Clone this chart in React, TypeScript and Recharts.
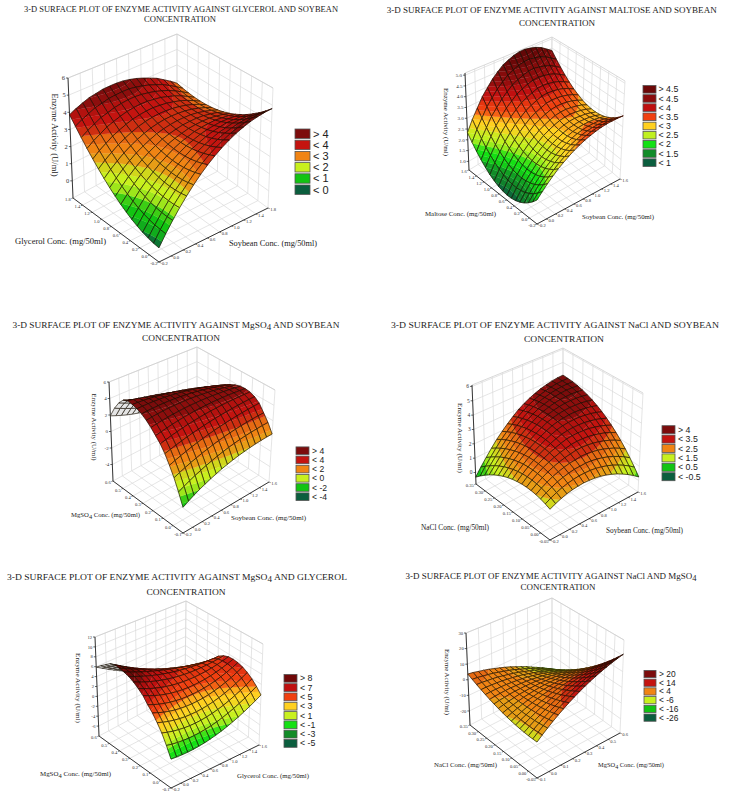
import React from 'react';
import { ScatterChart, Scatter, XAxis, YAxis } from 'recharts';

// Surface heights: rows run along the second factor, columns along the first.
const glycerolSoybeanZ = [
  [-.25,.33,.87,1.38,1.85,2.29,2.70,3.07,3.40,3.70,3.96,4.19,4.38,4.54,4.66,4.75,4.80],
  [-.21,.34,.86,1.35,1.79,2.21,2.60,2.94,3.25,3.52,3.76,3.97,4.13,4.27,4.37,4.43,4.46],
  [-.14,.38,.88,1.35,1.76,2.16,2.52,2.84,3.13,3.37,3.59,3.78,3.91,4.03,4.10,4.14,4.15],
  [-.05,.45,.93,1.37,1.76,2.14,2.47,2.77,3.04,3.25,3.45,3.61,3.72,3.82,3.86,3.88,3.87],
  [.08,.55,1.01,1.43,1.79,2.15,2.45,2.73,2.98,3.16,3.34,3.47,3.56,3.64,3.65,3.65,3.61],
  [.23,.68,1.12,1.51,1.85,2.19,2.46,2.72,2.94,3.10,3.26,3.36,3.43,3.48,3.47,3.45,3.38],
  [.42,.84,1.26,1.62,1.94,2.25,2.50,2.74,2.93,3.07,3.21,3.28,3.33,3.36,3.32,3.28,3.18],
  [.63,1.03,1.42,1.76,2.06,2.34,2.57,2.79,2.95,3.07,3.18,3.23,3.26,3.26,3.20,3.13,3.01],
  [.87,1.25,1.61,1.93,2.21,2.46,2.67,2.87,3.00,3.10,3.18,3.21,3.22,3.19,3.11,3.02,2.87],
  [1.14,1.50,1.83,2.13,2.39,2.61,2.80,2.97,3.08,3.16,3.21,3.22,3.21,3.15,3.05,2.93,2.76],
  [1.44,1.78,2.08,2.36,2.59,2.79,2.96,3.10,3.19,3.25,3.27,3.26,3.22,3.14,3.02,2.87,2.68],
  [1.77,2.09,2.36,2.62,2.82,3.00,3.15,3.26,3.33,3.37,3.36,3.33,3.26,3.16,3.02,2.84,2.63],
  [2.13,2.43,2.67,2.91,3.08,3.24,3.37,3.45,3.50,3.52,3.48,3.43,3.33,3.21,3.05,2.84,2.61],
  [2.52,2.79,3.01,3.23,3.37,3.51,3.61,3.67,3.70,3.69,3.63,3.56,3.43,3.29,3.10,2.87,2.62],
  [2.94,3.18,3.38,3.58,3.69,3.81,3.88,3.92,3.93,3.89,3.81,3.71,3.56,3.40,3.18,2.93,2.66],
  [3.39,3.60,3.78,3.95,4.04,4.14,4.18,4.20,4.19,4.12,4.02,3.89,3.72,3.54,3.29,3.02,2.72],
  [3.86,4.05,4.21,4.35,4.42,4.50,4.51,4.51,4.47,4.38,4.26,4.10,3.91,3.71,3.43,3.14,2.81],
];
const maltoseSoybeanZ = [
  [1.62,1.86,2.09,2.30,2.50,2.67,2.83,2.98,3.10,3.21,3.30,3.38,3.44,3.48,3.50,3.51,3.50],
  [1.40,1.66,1.90,2.12,2.33,2.51,2.67,2.82,2.95,3.06,3.15,3.22,3.27,3.30,3.32,3.31,3.29],
  [1.22,1.49,1.75,1.98,2.20,2.38,2.55,2.70,2.83,2.94,3.03,3.10,3.14,3.16,3.17,3.15,3.12],
  [1.07,1.36,1.63,1.87,2.10,2.29,2.46,2.62,2.75,2.86,2.95,3.01,3.05,3.06,3.06,3.03,2.98],
  [.96,1.26,1.55,1.80,2.04,2.23,2.41,2.57,2.70,2.81,2.90,2.96,2.99,2.99,2.98,2.94,2.88],
  [.88,1.20,1.50,1.76,2.01,2.21,2.39,2.56,2.69,2.80,2.89,2.94,2.97,2.96,2.94,2.89,2.81],
  [.84,1.17,1.48,1.76,2.01,2.22,2.41,2.58,2.71,2.82,2.91,2.96,2.98,2.96,2.93,2.87,2.78],
  [.83,1.18,1.50,1.79,2.05,2.27,2.46,2.64,2.77,2.88,2.97,3.01,3.03,3.00,2.96,2.89,2.78],
  [.86,1.22,1.55,1.86,2.12,2.35,2.55,2.73,2.86,2.97,3.06,3.10,3.11,3.07,3.02,2.94,2.82],
  [.92,1.30,1.64,1.96,2.23,2.47,2.67,2.86,2.99,3.10,3.19,3.22,3.22,3.18,3.12,3.02,2.89],
  [1.02,1.41,1.76,2.10,2.37,2.62,2.83,3.02,3.15,3.26,3.35,3.38,3.37,3.32,3.25,3.14,3.00],
  [1.15,1.56,1.92,2.27,2.55,2.81,3.02,3.22,3.35,3.46,3.55,3.57,3.55,3.50,3.42,3.29,3.14],
  [1.32,1.74,2.11,2.48,2.76,3.03,3.25,3.45,3.58,3.69,3.78,3.80,3.77,3.71,3.62,3.48,3.32],
  [1.52,1.96,2.34,2.72,3.01,3.29,3.51,3.72,3.85,3.96,4.04,4.06,4.02,3.96,3.86,3.70,3.53],
  [1.76,2.21,2.60,3.00,3.29,3.58,3.81,4.02,4.15,4.26,4.34,4.36,4.31,4.24,4.13,3.96,3.78],
  [2.03,2.50,2.90,3.31,3.61,3.91,4.14,4.36,4.49,4.60,4.67,4.69,4.63,4.56,4.44,4.25,4.06],
  [2.33,2.82,3.23,3.65,3.96,4.27,4.51,4.73,4.86,4.97,5.04,5.05,4.99,4.91,4.78,4.58,4.37],
];
const mgso4SoybeanZ = [
  [-3,-2.64,-2.29,-1.97,-1.68,-1.40,-1.14,-.90,-.69,-.50,-.32,-.18,-.05,.06,.15,.22,.26],
  [-1.6,-1.27,-.96,-.67,-.40,-.15,.08,.30,.50,.68,.84,.98,1.10,1.20,1.28,1.35,1.40],
  [-.3,-.02,.24,.49,.72,.94,1.14,1.33,1.5,1.65,1.79,1.91,2.02,2.11,2.19,2.25,2.3],
  [.8,1.04,1.27,1.49,1.70,1.89,2.07,2.24,2.4,2.54,2.67,2.79,2.90,2.99,3.07,3.14,3.2],
  [1.8,2.0,2.19,2.37,2.54,2.70,2.84,2.98,3.1,3.21,3.32,3.41,3.49,3.56,3.62,3.67,3.7],
  [2.6,2.78,2.95,3.11,3.26,3.39,3.51,3.61,3.7,3.78,3.84,3.89,3.93,3.95,3.96,3.96,3.95],
  [3.2,3.36,3.51,3.65,3.77,3.87,3.96,4.04,4.1,4.15,4.18,4.19,4.19,4.18,4.15,4.11,4.05],
  [3.8,3.93,4.04,4.14,4.22,4.29,4.34,4.38,4.4,4.4,4.39,4.36,4.32,4.26,4.19,4.10,4.0],
  [4.3,4.40,4.48,4.54,4.59,4.62,4.63,4.63,4.6,4.56,4.5,4.43,4.34,4.23,4.11,3.96,3.8],
  [4.7,4.77,4.81,4.84,4.85,4.84,4.81,4.76,4.7,4.62,4.51,4.39,4.25,4.09,3.91,3.72,3.5],
  [4.95,4.98,4.99,4.98,4.95,4.91,4.84,4.76,4.65,4.53,4.38,4.22,4.03,3.83,3.61,3.36,3.1],
  [5.1,5.07,5.03,4.97,4.89,4.79,4.68,4.55,4.4,4.24,4.05,3.85,3.64,3.40,3.15,2.88,2.6],
  [5.2,5.07,4.93,4.78,4.62,4.46,4.28,4.10,3.9,3.70,3.48,3.26,3.03,2.79,2.54,2.28,2.0],
  [4.9,4.64,4.39,4.14,3.90,3.67,3.44,3.22,3.0,2.79,2.59,2.39,2.2,2.02,1.84,1.67,1.5],
  [4.2,3.91,3.63,3.36,3.10,2.86,2.63,2.41,2.2,2.01,1.83,1.66,1.5,1.36,1.23,1.11,1.0],
  [3.2,2.88,2.58,2.30,2.04,1.80,1.58,1.38,1.2,1.04,.90,.78,.68,.60,.55,.51,.5],
  [1.9,1.62,1.36,1.12,.90,.71,.53,.38,.25,.14,.06,0,-.05,-.07,-.07,-.05,0],
];
const naclSoybeanZ = [
  [1.2,1.38,1.53,1.65,1.73,1.78,1.81,1.79,1.75,1.68,1.57,1.43,1.26,1.05,.82,.55,.25],
  [1.33,1.53,1.70,1.84,1.94,2.01,2.06,2.06,2.05,2.00,1.91,1.79,1.64,1.45,1.24,.99,.71],
  [1.43,1.65,1.84,2.00,2.12,2.21,2.28,2.30,2.32,2.29,2.22,2.12,1.99,1.82,1.63,1.40,1.14],
  [1.50,1.74,1.95,2.13,2.27,2.38,2.47,2.51,2.56,2.55,2.50,2.42,2.31,2.16,1.99,1.78,1.54],
  [1.54,1.80,2.03,2.23,2.39,2.52,2.63,2.70,2.77,2.78,2.75,2.69,2.60,2.47,2.32,2.13,1.91],
  [1.55,1.83,2.08,2.30,2.48,2.63,2.76,2.86,2.95,2.98,2.97,2.93,2.86,2.75,2.62,2.45,2.25],
  [1.53,1.83,2.10,2.34,2.54,2.71,2.86,2.99,3.10,3.15,3.16,3.14,3.09,3.00,2.89,2.74,2.56],
  [1.48,1.80,2.09,2.35,2.57,2.77,2.94,3.09,3.22,3.29,3.32,3.32,3.29,3.22,3.13,3.00,2.84],
  [1.40,1.74,2.05,2.33,2.57,2.79,2.99,3.16,3.31,3.40,3.45,3.47,3.46,3.41,3.34,3.23,3.09],
  [1.29,1.65,1.98,2.28,2.55,2.79,3.01,3.20,3.37,3.48,3.55,3.59,3.60,3.57,3.52,3.43,3.31],
  [1.15,1.53,1.88,2.20,2.49,2.75,2.99,3.21,3.40,3.53,3.62,3.68,3.71,3.70,3.67,3.60,3.50],
  [.98,1.38,1.75,2.09,2.41,2.69,2.95,3.19,3.40,3.55,3.66,3.74,3.79,3.80,3.79,3.74,3.66],
  [.78,1.20,1.59,1.95,2.30,2.60,2.88,3.14,3.37,3.54,3.67,3.77,3.84,3.87,3.88,3.85,3.79],
  [.55,.99,1.40,1.79,2.16,2.48,2.78,3.06,3.31,3.50,3.65,3.77,3.86,3.91,3.94,3.93,3.89],
  [.29,.75,1.18,1.59,1.99,2.33,2.65,2.95,3.22,3.43,3.60,3.74,3.85,3.92,3.97,3.98,3.96],
  [0,.48,.93,1.37,1.79,2.15,2.49,2.81,3.10,3.33,3.52,3.68,3.81,3.90,3.97,4.00,4.00],
  [-.32,.19,.66,1.12,1.56,1.94,2.30,2.64,2.95,3.20,3.41,3.59,3.74,3.85,3.94,4.00,4.02],
];
const mgso4GlycerolZ = [
  [-2.5,-2.61,-2.67,-2.68,-2.64,-2.54,-2.40,-2.20,-1.95,-1.65,-1.30,-.89,-.44,.07,.63,1.24,1.90],
  [-.5,-.74,-.92,-1.03,-1.09,-1.08,-1.01,-.88,-.7,-.45,-.14,.23,.66,1.16,1.71,2.33,3.0],
  [1.3,.95,.66,.45,.30,.22,.21,.27,.4,.60,.86,1.2,1.6,2.07,2.61,3.22,3.9],
  [2.7,2.29,1.95,1.69,1.49,1.36,1.31,1.32,1.4,1.55,1.78,2.07,2.44,2.87,3.38,3.96,4.6],
  [4,3.54,3.15,2.83,2.59,2.41,2.30,2.27,2.3,2.40,2.58,2.82,3.14,3.52,3.98,4.51,5.1],
  [5,4.53,4.13,3.79,3.52,3.32,3.18,3.11,3.1,3.16,3.28,3.47,3.73,4.05,4.43,4.88,5.4],
  [6.2,5.68,5.22,4.82,4.49,4.22,4.02,3.88,3.8,3.79,3.84,3.96,4.14,4.39,4.70,5.07,5.5],
  [7,6.48,6.01,5.60,5.25,4.95,4.71,4.53,4.4,4.33,4.31,4.35,4.45,4.60,4.81,5.08,5.4],
  [7.7,7.19,6.73,6.31,5.94,5.61,5.33,5.09,4.9,4.75,4.65,4.60,4.59,4.62,4.70,4.83,5.0],
  [8.2,7.71,7.25,6.83,6.44,6.08,5.75,5.46,5.2,4.97,4.78,4.62,4.49,4.39,4.33,4.30,4.3],
  [8.5,8.0,7.53,7.07,6.64,6.22,5.83,5.45,5.1,4.77,4.45,4.16,3.89,3.64,3.41,3.19,3.0],
  [8.7,8.12,7.55,7.01,6.49,5.99,5.51,5.05,4.6,4.18,3.78,3.40,3.04,2.70,2.38,2.08,1.8],
  [8.8,8.09,7.40,6.74,6.10,5.49,4.90,4.34,3.8,3.29,2.80,2.34,1.90,1.49,1.10,.74,.4],
  [8.4,7.61,6.86,6.13,5.43,4.75,4.11,3.49,2.9,2.34,1.81,1.30,.82,.37,-.05,-.44,-.8],
  [7.6,6.84,6.09,5.37,4.67,4.0,3.34,2.71,2.1,1.51,.94,.40,-.12,-.62,-1.1,-1.56,-2],
  [6.8,6.05,5.31,4.6,3.9,3.22,2.56,1.92,1.3,.7,.11,-.45,-1.0,-1.53,-2.04,-2.53,-3],
  [5.9,5.2,4.51,3.83,3.16,2.51,1.86,1.23,.6,0,-.6,-1.19,-1.77,-2.34,-2.9,-3.45,-4],
];
const naclMgso4Z = [
  [-8,-5.37,-2.84,-.43,1.88,4.07,6.16,8.13,10,11.76,13.41,14.94,16.38,17.7,18.91,20.01,21],
  [-8.03,-5.6,-3.28,-1.07,1.04,3.02,4.91,6.68,8.35,9.9,11.35,12.68,13.91,15.03,16.04,16.93,17.72],
  [-7.96,-5.73,-3.62,-1.61,.3,2.07,3.76,5.33,6.8,8.14,9.39,10.52,11.54,12.46,13.27,13.95,14.54],
  [-7.78,-5.75,-3.85,-2.04,-.33,1.23,2.72,4.09,5.36,6.49,7.54,8.47,9.28,10,10.61,11.08,11.47],
  [-7.51,-5.68,-3.99,-2.38,-.87,.48,1.77,2.94,4.01,4.93,5.78,6.51,7.11,7.63,8.04,8.3,8.49],
  [-7.14,-5.51,-4.03,-2.62,-1.31,-.17,.92,1.89,2.76,3.47,4.12,4.65,5.04,5.36,5.57,5.62,5.61],
  [-6.66,-5.23,-3.96,-2.75,-1.64,-.71,.18,.95,1.62,2.12,2.57,2.9,3.08,3.2,3.21,3.05,2.84],
  [-6.08,-4.85,-3.79,-2.78,-1.87,-1.15,-.46,.11,.58,.87,1.12,1.25,1.22,1.14,.95,.58,.17],
  [-5.4,-4.37,-3.52,-2.71,-2,-1.49,-1,-.63,-.36,-.28,-.23,-.3,-.54,-.82,-1.21,-1.79,-2.4],
  [-4.62,-3.79,-3.15,-2.54,-2.03,-1.73,-1.44,-1.27,-1.2,-1.33,-1.48,-1.75,-2.2,-2.68,-3.27,-4.06,-4.87],
  [-3.73,-3.1,-2.67,-2.26,-1.95,-1.86,-1.77,-1.8,-1.93,-2.27,-2.62,-3.09,-3.75,-4.43,-5.22,-6.22,-7.23],
  [-2.75,-2.32,-2.1,-1.89,-1.78,-1.9,-2.01,-2.24,-2.57,-3.12,-3.67,-4.34,-5.21,-6.09,-7.08,-8.29,-9.5],
  [-1.66,-1.43,-1.42,-1.41,-1.5,-1.83,-2.14,-2.57,-3.1,-3.86,-4.61,-5.48,-6.56,-7.64,-8.83,-10.25,-11.66],
  [-.48,-.45,-.65,-.84,-1.13,-1.67,-2.18,-2.81,-3.54,-4.51,-5.46,-6.53,-7.82,-9.1,-10.49,-12.12,-13.73],
  [.81,.64,.23,-.16,-.65,-1.4,-2.11,-2.94,-3.87,-5.05,-6.2,-7.47,-8.97,-10.45,-12.04,-13.88,-15.69],
  [2.21,1.84,1.22,.63,-.06,-1.02,-1.93,-2.96,-4.09,-5.48,-6.83,-8.3,-10.01,-11.69,-13.48,-15.53,-17.54],
  [3.7,3.13,2.3,1.51,.62,-.55,-1.66,-2.89,-4.22,-5.82,-7.37,-9.04,-11.01,-12.94,-14.89,-17.09,-19.3],
];

// Tick labels
const soyTicks = ['-0.2','0.0','0.2','0.4','0.6','0.8','1.0','1.2','1.4','1.6'];
const soyTicksFirst = ['-0.2','0.0','0.2','0.4','0.6','0.8','1.0','1.2','1.4','1.8'];
const glyTicksFirst = ['-0.2','0.0','0.2','0.4','0.6','0.8','1.0','1.2','1.4','1.8'];
const maltTicks = ['-0.2','0.0','0.2','0.4','0.6','0.8','1.0','1.2','1.4','1.6'];
const mgTicks = ['-0.1','0.0','0.1','0.2','0.3','0.4','0.5','0.6'];
const naclTicks = ['-0.05','0.00','0.05','0.10','0.15','0.20','0.25','0.30','0.35'];
const zTicks1 = ['0','1','2','3','4','5','6'];
const zTicks2 = ['1.0','1.5','2.0','2.5','3.0','3.5','4.0','4.5','5.0'];
const zTicks3 = ['-4','-2','0','2','4','6'];
const zTicks4 = ['0','1','2','3','4','5','6'];
const zTicks5 = ['-6','-4','-2','0','2','4','6','8','10','12'];
const zTicks6 = ['-20','-10','0','10','20','30'];

// Legends
const sixBands = ['#0b5e3e', '#12c412', '#c8f01e', '#f08414', '#c41410', '#7c0c0c'];
const nineBands = ['#0b5e3e', '#128c28', '#14e014', '#c0f020', '#ffd020', '#f04010', '#c01010', '#8c0c0c', '#6c0808'];
const eightBands = ['#0b5e3e', '#128c28', '#14e014', '#c8f020', '#ffd020', '#f04010', '#c01010', '#700808'];
const legend1 = ['> 4', '< 4', '< 3', '< 2', '< 1', '< 0'];
const legend2 = ['> 4.5', '< 4.5', '< 4', '< 3.5', '< 3', '< 2.5', '< 2', '< 1.5', '< 1'];
const legend3 = ['> 4', '< 4', '< 2', '< 0', '< -2', '< -4'];
const legend4 = ['> 4', '< 3.5', '< 2.5', '< 1.5', '< 0.5', '< -0.5'];
const legend5 = ['> 8', '< 7', '< 5', '< 3', '< 1', '< -1', '< -3', '< -5'];
const legend6 = ['> 20', '< 14', '< 4', '< -6', '< -16', '< -26'];
const levels1 = [0, 1, 2, 3, 4];
const levels2 = [1, 1.5, 2, 2.5, 3, 3.5, 4, 4.5];
const levels3 = [-4, -2, 0, 2, 4];
const levels4 = [-0.5, 0.5, 1.5, 2.5, 3.5];
const levels5 = [-5, -3, -1, 1, 3, 5, 7];
const levels6 = [-26, -16, -6, 4, 14];

type Pt = [number, number];
const SERIF = '"Liberation Serif", "Times New Roman", serif';
const SANS = '"Liberation Sans", Arial, sans-serif';

const panelsConfig: any[] = [
  {
    left: 0, top: 0, h: 310, z: glycerolSoybeanZ, zMin: -1, zMax: 6, xTicks: soyTicksFirst, yTicks: glyTicksFirst, zTicks: zTicks1,
    F: [159, 262], R: [268, 208], L: [73, 198], B: [177, 142], FT: [158.5, 130], RT: [273, 88], LT: [68, 78], BT: [177, 34],
    levels: levels1, colors: sixBands, legend: legend1,
    leg: { x: 295, w: 15, y0: 133.7, pitch: 11.2, h: 9.4, tx: 313, fs: 11 }, zFs: 6.5,
    titles: [['3-D SURFACE PLOT OF ENZYME ACTIVITY AGAINST GLYCEROL AND SOYBEAN', 181, 12, 314, 8.6], ['CONCENTRATION', 180, 22, 72, 8.6]],
    labels: [['Glycerol Conc. (mg/50ml)', 15, 244, 91, 8.4], ['Soybean Conc. (mg/50ml)', 229, 246, 88, 8.4]],
    zTitle: [52, 135, 83, 8.4],
  },
  {
    left: 370, top: 0, h: 310, z: maltoseSoybeanZ, zMin: 0.6, zMax: 5.1, xTicks: soyTicks, yTicks: maltTicks, zTicks: zTicks2,
    F: [167, 224], R: [250, 179], L: [99, 170], B: [181, 120], FT: [167, 118], RT: [255, 81], LT: [95, 73], BT: [182, 37],
    levels: levels2, colors: nineBands, legend: legend2,
    leg: { x: 273, w: 13, y0: 89.3, pitch: 9.17, h: 7.6, tx: 288.5, fs: 8.8 }, zFs: 5,
    titles: [['3-D SURFACE PLOT OF ENZYME ACTIVITY AGAINST MALTOSE AND SOYBEAN', 181.7, 13, 330, 9], ['CONCENTRATION', 187, 25.5, 76, 9]],
    labels: [['Maltose Conc. (mg/50ml)', 55, 216, 71, 6.8], ['Soybean Conc. (mg/50ml)', 212, 219, 72, 6.8]],
    zTitle: [74, 122, 68, 6.8],
  },
  {
    left: 0, top: 310, h: 255, z: mgso4SoybeanZ, zMin: -6, zMax: 6, xTicks: soyTicks, yTicks: mgTicks, zTicks: zTicks3,
    F: [183, 223], R: [269, 172], L: [113, 171], B: [197, 125], FT: [183, 120], RT: [275, 80], LT: [109, 72], BT: [197, 37],
    levels: levels3, colors: sixBands, legend: legend3,
    leg: { x: 296, w: 13, y0: 140.7, pitch: 9.2, h: 7.6, tx: 312, fs: 8.6 }, zFs: 5,
    titles: [['3-D SURFACE PLOT OF ENZYME ACTIVITY AGAINST  MgSO_4_ AND SOYBEAN', 176, 18, 327, 9], ['CONCENTRATION', 181, 31, 78, 9]],
    labels: [['MgSO_4_ Conc. (mg/50ml)', 71, 207, 69, 6.8], ['Soybean Conc. (mg/50ml)', 231, 210, 75, 6.8]],
    zTitle: [92, 117, 67, 6.8],
  },
  {
    left: 370, top: 310, h: 255, z: naclSoybeanZ, zMin: -0.8, zMax: 6.1, xTicks: soyTicks, yTicks: naclTicks, zTicks: zTicks4,
    F: [180, 230], R: [268, 182], L: [106, 174], B: [193, 128], FT: [180, 124], RT: [273, 83], LT: [102, 75], BT: [193, 38],
    levels: levels4, colors: sixBands, legend: legend4,
    leg: { x: 292, w: 13, y0: 119.7, pitch: 9.4, h: 8, tx: 308, fs: 8.8 }, zFs: 5.5,
    titles: [['3-D SURFACE PLOT OF ENZYME ACTIVITY AGAINST NaCl AND SOYBEAN', 185, 18, 328, 9], ['CONCENTRATION', 194, 32, 80, 9]],
    labels: [['NaCl Conc. (mg/50ml)', 51, 220, 68, 7.2], ['Soybean Conc. (mg/50ml)', 236, 223, 77, 7.2]],
    zTitle: [88, 128, 70, 7],
  },
  {
    left: 0, top: 565, h: 237, z: mgso4GlycerolZ, zMin: -8, zMax: 12, xTicks: soyTicks, yTicks: mgTicks, zTicks: zTicks5,
    F: [171, 223], R: [259, 180], L: [99, 171], B: [185, 125], FT: [171, 118], RT: [263, 79], LT: [95, 72], BT: [186, 36],
    levels: levels5, colors: eightBands, legend: legend5,
    leg: { x: 284, w: 13, y0: 113.3, pitch: 9.3, h: 7.8, tx: 300, fs: 8.8 }, zFs: 4.6,
    titles: [['3-D SURFACE PLOT OF ENZYME ACTIVITY AGAINST MgSO_4_  AND GLYCEROL', 177, 15, 340, 9.2], ['CONCENTRATION', 186, 30, 79, 9.2]],
    labels: [['MgSO_4_ Conc. (mg/50ml)', 40, 211, 71, 6.8], ['Glycerol Conc. (mg/50ml)', 237, 213, 72, 6.8]],
    zTitle: [76, 123, 70, 6.8],
  },
  {
    left: 370, top: 565, h: 237, z: naclMgso4Z, zMin: -29, zMax: 30, xTicks: mgTicks, yTicks: naclTicks, zTicks: zTicks6,
    F: [167, 213], R: [250, 168], L: [100, 160], B: [182, 118], FT: [167, 112], RT: [254, 75], LT: [96, 68], BT: [182, 33],
    levels: levels6, colors: sixBands, legend: legend6,
    leg: { x: 274, w: 12, y0: 109, pitch: 8.73, h: 7.2, tx: 289, fs: 8.4 }, zFs: 4.6,
    titles: [['3-D SURFACE PLOT OF ENZYME ACTIVITY AGAINST NaCl AND MgSO_4_', 181, 14, 291, 8.6], ['CONCENTRATION', 188, 25, 75, 8.6]],
    labels: [['NaCl Conc. (mg/50ml)', 64, 202, 63, 6.8], ['MgSO_4_ Conc. (mg/50ml)', 228, 202, 66, 6.8]],
    zTitle: [75, 117, 66, 6.8],
  },
];

const WIDTH = 365;

function hex(c: string): number[] {
  return [parseInt(c.slice(1, 3), 16), parseInt(c.slice(3, 5), 16), parseInt(c.slice(5, 7), 16)];
}
function mix(a: string, b: string, t: number): string {
  const A = hex(a), B = hex(b);
  const v = A.map((x, i) => Math.round(x + (B[i] - x) * t).toString(16).padStart(2, '0'));
  return '#' + v.join('');
}

type V = [number, number, number];
function clip(poly: V[], limit: number, keepAbove: boolean): V[] {
  const out: V[] = [];
  for (let i = 0; i < poly.length; i++) {
    const a = poly[i], b = poly[(i + 1) % poly.length];
    const ina = keepAbove ? a[2] >= limit : a[2] <= limit;
    const inb = keepAbove ? b[2] >= limit : b[2] <= limit;
    if (ina) out.push(a);
    if (ina !== inb) {
      const t = (limit - a[2]) / (b[2] - a[2]);
      out.push([a[0] + (b[0] - a[0]) * t, a[1] + (b[1] - a[1]) * t, limit]);
    }
  }
  return out;
}
const toPath = (poly: (V | Pt)[]) => 'M' + poly.map((p) => p[0].toFixed(2) + ' ' + p[1].toFixed(2)).join('L') + 'Z';

function buildPieces(levels: number[], colors: string[]) {
  const pieces: { lo: number; hi: number; fill: string }[] = [];
  const n = colors.length;
  for (let b = 0; b < n; b++) {
    const w = b === 0 ? levels[1] - levels[0] : b === n - 1 ? levels[n - 2] - levels[n - 3] : levels[b] - levels[b - 1];
    const lo = b === 0 ? levels[0] - w : levels[b - 1];
    const lower = b > 0 ? colors[b - 1] : colors[b];
    const upper = b < n - 1 ? colors[b + 1] : mix(colors[b], '#000000', 0.35);
    for (let p = 0; p < 3; p++) {
      const t = (p + 0.5) / 3;
      const fill = t < 0.5 ? mix(colors[b], lower, (0.5 - t) * 0.7) : mix(colors[b], upper, (t - 0.5) * 0.7);
      const pl = p === 0 && b === 0 ? -1e6 : lo + (w * p) / 3;
      const ph = p === 2 && b === n - 1 ? 1e6 : lo + (w * (p + 1)) / 3;
      pieces.push({ lo: pl, hi: ph, fill });
    }
  }
  return pieces;
}

function makePanel(c: any) {
  const lerp = (a: Pt, b: Pt, t: number): Pt => [a[0] + (b[0] - a[0]) * t, a[1] + (b[1] - a[1]) * t];
  const project = (u: number, v: number, t: number): Pt => {
    const bottom = lerp(lerp(c.F, c.R, u), lerp(c.L, c.B, u), v);
    const top = lerp(lerp(c.FT, c.RT, u), lerp(c.LT, c.BT, u), v);
    return lerp(bottom, top, t);
  };
  const tz = (z: number) => (z - c.zMin) / (c.zMax - c.zMin);
  const rows: number[][] = c.z;
  const ny = rows.length - 1, nx = rows[0].length - 1;
  const pieces = buildPieces(c.levels, c.colors);

  const cells: any[] = [];
  for (let j = ny - 1; j >= 0; j--) {
    for (let i = nx - 1; i >= 0; i--) cells.push({ i, j });
  }
  cells.sort((a, b) => b.i + b.j - (a.i + a.j));
  const cellData = cells.map(({ i, j }) => {
    const corner = (ci: number, cj: number): V => {
      const z = rows[cj][ci];
      const p = project(ci / nx, cj / ny, tz(z));
      return [p[0], p[1], z];
    };
    const quad: V[] = [corner(i, j), corner(i + 1, j), corner(i + 1, j + 1), corner(i, j + 1)];
    const ax = quad[1][0] - quad[0][0], ay = quad[1][1] - quad[0][1];
    const bx = quad[3][0] - quad[0][0], by = quad[3][1] - quad[0][1];
    const under = ax * by - ay * bx > 0;
    const fills: { d: string; fill: string }[] = [];
    if (under) fills.push({ d: toPath(quad), fill: '#e4e4e4' });
    else {
      pieces.forEach((pc) => {
        const part = clip(clip(quad, pc.lo, true), pc.hi, false);
        if (part.length > 2) fills.push({ d: toPath(part), fill: pc.fill });
      });
    }
    const centre = project((i + 0.5) / nx, (j + 0.5) / ny, tz((quad[0][2] + quad[2][2]) / 2));
    return { x: centre[0], y: centre[1], fills, outline: toPath(quad) };
  });

  const segs: any[] = [];
  const seg = (a: Pt, b: Pt, stroke: string, width: number) => segs.push({ x: a[0], y: a[1], x2: b[0], y2: b[1], stroke, width });
  const GRID = '#dadada';
  const nxT = c.xTicks.length - 1, nyT = c.yTicks.length - 1;
  for (let i = 0; i <= nxT; i++) {
    const u = i / nxT;
    seg(project(u, 0, 0), project(u, 1, 0), GRID, 0.7);
    seg(project(u, 1, 0), project(u, 1, 1), GRID, 0.7);
  }
  for (let j = 0; j <= nyT; j++) {
    const v = j / nyT;
    seg(project(0, v, 0), project(1, v, 0), GRID, 0.7);
    seg(project(1, v, 0), project(1, v, 1), GRID, 0.7);
  }
  c.zTicks.forEach((lb: string) => {
    const t = tz(Number(lb));
    seg(project(0, 1, t), project(1, 1, t), GRID, 0.7);
    seg(project(1, 1, t), project(1, 0, t), GRID, 0.7);
  });
  seg(project(0, 1, 1), project(1, 1, 1), '#cfcfcf', 0.8);
  seg(project(1, 1, 1), project(1, 0, 1), '#cfcfcf', 0.8);
  const axes: any[] = [];
  const axis = (a: Pt, b: Pt, width = 0.9) => axes.push({ x: a[0], y: a[1], x2: b[0], y2: b[1], stroke: '#222222', width });
  axis(project(0, 0, 0), project(1, 0, 0));
  axis(project(0, 0, 0), project(0, 1, 0));
  axis(project(0, 1, 0), project(0, 1, 1));

  const texts: any[] = [];
  c.xTicks.forEach((lb: string, i: number) => {
    const p = project(i / nxT, 0, 0);
    axis(p, [p[0] + 1.6, p[1] + 0.6], 0.6);
    texts.push({ x: p[0] + (i === 0 ? 1.5 : 2.2), y: p[1] + 3.2, text: lb, size: 4.6, anchor: 'start', family: SERIF });
  });
  c.yTicks.forEach((lb: string, j: number) => {
    const p = project(0, j / nyT, 0);
    axis(p, [p[0] - 1.6, p[1] + 0.6], 0.6);
    texts.push({ x: p[0] - (j === 0 ? 1.5 : 2.2), y: p[1] + 3.2, text: lb, size: 4.6, anchor: 'end', family: SERIF });
  });
  c.zTicks.forEach((lb: string) => {
    const p = project(0, 1, tz(Number(lb)));
    axis(p, [p[0] - 2, p[1]], 0.7);
    texts.push({ x: p[0] - 3, y: p[1] + c.zFs * 0.35, text: lb, size: c.zFs, anchor: 'end', family: SERIF });
  });
  c.titles.forEach((t: any[]) => texts.push({ x: t[1], y: t[2], text: t[0], size: t[4], anchor: 'middle', len: t[3], family: SERIF, fill: '#222' }));
  c.labels.forEach((t: any[]) => texts.push({ x: t[1], y: t[2], text: t[0], size: t[4], anchor: 'start', len: t[3], family: SERIF, fill: '#222' }));
  texts.push({ x: c.zTitle[0], y: c.zTitle[1], text: 'Enzyme Activity (U/ml)', size: c.zTitle[3], anchor: 'middle', len: c.zTitle[2], family: SERIF, rot: 90, fill: '#222' });

  const n = c.colors.length;
  const swatches = c.legend.map((lb: string, k: number) => ({
    x: c.leg.x, y: c.leg.y0 + k * c.leg.pitch, w: c.leg.w, h: c.leg.h, fill: c.colors[n - 1 - k],
  }));
  c.legend.forEach((lb: string, k: number) => {
    texts.push({ x: c.leg.tx, y: c.leg.y0 + k * c.leg.pitch + c.leg.fs * 0.35, text: lb, size: c.leg.fs, anchor: 'start', family: SANS, fill: '#222' });
  });
  return { cellData, segs, axes, texts, swatches };
}

const SegShape = (p: any) => {
  const d = p.payload;
  return <line x1={p.cx} y1={p.cy} x2={p.cx + d.x2 - d.x} y2={p.cy + d.y2 - d.y} stroke={d.stroke} strokeWidth={d.width} />;
};
const CellShape = (p: any) => {
  const d = p.payload;
  return (
    <g transform={`translate(${p.cx - d.x} ${p.cy - d.y})`}>
      {d.fills.map((f: any, i: number) => (
        <path key={i} d={f.d} fill={f.fill} stroke={f.fill} strokeWidth={0.25} />
      ))}
      <path d={d.outline} fill="none" stroke="#140c00" strokeWidth={0.65} strokeLinejoin="round" />
    </g>
  );
};
const SwatchShape = (p: any) => {
  const d = p.payload;
  return <rect x={p.cx - 0} y={p.cy - d.h / 2} width={d.w} height={d.h} fill={d.fill} stroke="#555555" strokeWidth={0.8} />;
};
const TextShape = (p: any) => {
  const d = p.payload;
  const parts: string[] = d.text.split('_');
  return (
    <text
      x={p.cx}
      y={p.cy}
      fontFamily={d.family}
      fontSize={d.size}
      textAnchor={d.anchor}
      fill={d.fill || '#333'}
      textLength={d.len}
      lengthAdjust={d.len ? 'spacingAndGlyphs' : undefined}
      transform={d.rot ? `rotate(${d.rot} ${p.cx} ${p.cy})` : undefined}
    >
      {parts.map((s, i) =>
        i % 2 === 1 ? (
          <tspan key={i} dy={d.size * 0.25} fontSize={d.size * 0.95}>{s}</tspan>
        ) : (
          <tspan key={i} dy={i > 0 ? -d.size * 0.25 : 0}>{s}</tspan>
        ),
      )}
    </text>
  );
};

function Panel({ config }: { config: any }) {
  const model = makePanel(config);
  return (
    <div style={{ position: 'absolute', left: config.left, top: config.top, width: WIDTH, height: config.h }}>
      <ScatterChart width={WIDTH} height={config.h} margin={{ top: 0, right: 0, bottom: 0, left: 0 }}>
        <XAxis type="number" dataKey="x" domain={[0, WIDTH]} hide />
        <YAxis type="number" dataKey="y" domain={[0, config.h]} reversed hide />
        <Scatter data={model.segs} shape={SegShape} isAnimationActive={false} />
        <Scatter data={model.axes} shape={SegShape} isAnimationActive={false} />
        <Scatter data={model.cellData} shape={CellShape} isAnimationActive={false} />
        <Scatter data={model.swatches} shape={SwatchShape} isAnimationActive={false} />
        <Scatter data={model.texts} shape={TextShape} isAnimationActive={false} />
      </ScatterChart>
    </div>
  );
}

export default function App() {
  return (
    <div style={{ position: 'absolute', left: 0, top: 0, width: 735, height: 802, background: '#ffffff', overflow: 'hidden' }}>
      {panelsConfig.map((c, i) => (
        <Panel key={i} config={c} />
      ))}
    </div>
  );
}
